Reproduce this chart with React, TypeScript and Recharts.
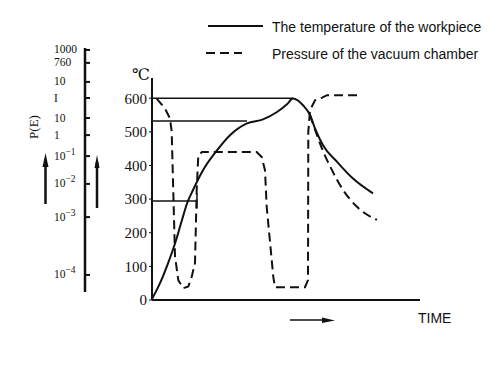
import React from 'react';
import { LineChart, Line, XAxis, YAxis } from 'recharts';

// temperature scale (℃) of the main plot
const tempTicks = [0, 100, 200, 300, 400, 500, 600];

// workpiece temperature (solid)
const workpieceTime = [0, 8, 16, 23, 30, 35, 41, 51, 65, 78, 95, 111, 125, 135, 141, 151, 158, 163, 171, 185, 201, 221];
const workpieceTemp = [3, 50, 109, 168, 238, 287, 327, 386, 445, 490, 525, 537, 559, 582, 599, 579, 550, 510, 460, 411, 361, 317];

// vacuum chamber pressure (dashed), drawn on the temperature frame
const pressureTime = [4.7, 13, 18, 19.7, 23, 26.3, 31.3, 36.3, 39.7, 43, 44.7, 46.3, 50, 104.7, 109.7, 113, 114.7, 121.3, 123, 153, 156, 156.3, 158, 163, 169.7, 175, 209.7];
const pressureLevel = [599, 569, 540, 500, 130, 59, 35, 40, 69, 110, 327, 430, 440, 440, 425, 386, 277, 69, 38, 38, 59, 500, 564, 594, 601, 609, 609];

// second dashed cooling branch
const coolingTime = [158, 165, 170, 180, 190, 205, 225];
const coolingTemp = [550, 490, 450, 386, 332, 277, 238];

// horizontal guide lines from the ℃ axis
const guideLevels = [600, 532, 294];
const guideEnds = [141, 95, 45];

// left pressure scale: tick positions (0 = bottom, 100 = top) and labels
const pressureTickPos = [99.2, 93.9, 86.1, 79.5, 71.3, 64.3, 55.7, 44.3, 30.7, 7.0];
const pressureTickBase = ['1000', '760', '10', 'I', '10', '1', '10', '10', '10', '10'];
const pressureTickExp = ['', '', '', '', '', '', '−1', '−2', '−3', '−4'];

const ink = '#111';
const serif = '"Liberation Serif", "DejaVu Serif", serif';
const sans = '"Liberation Sans", Arial, sans-serif';

const toRows = (xs: number[], ys: number[]) => xs.map((t, i) => ({ t, v: ys[i] }));
const pressureRows = pressureTickPos.map((p) => ({ x: 0, p }));

const renderPressureTick = (props: any) => {
  const { x, y, payload } = props;
  const i = pressureTickPos.indexOf(payload.value);
  return (
    <g key={'pt' + i}>
      <line x1={x} x2={x + 5} y1={y} y2={y} stroke={ink} strokeWidth={2} />
      <text x={x - 31} y={y} dy={3.5} fontFamily={serif} fontSize={11.5} fill={ink}>
        {pressureTickBase[i]}
        {pressureTickExp[i] ? <tspan dy={-5} fontSize={9.5}>{pressureTickExp[i]}</tspan> : null}
      </text>
    </g>
  );
};

export default function App() {
  return (
    <div style={{ position: 'absolute', left: 0, top: 0, width: 498, height: 376, background: '#fff' }}>
      <div style={{ position: 'absolute', left: 0, top: 0 }}>
        <LineChart width={498} height={376} margin={{ top: 78, right: 78, bottom: 56, left: 112 }}>
          <XAxis
            type="number"
            dataKey="t"
            domain={[0, 268]}
            allowDataOverflow
            tick={false}
            tickLine={false}
            height={20}
            axisLine={{ stroke: ink, strokeWidth: 2 }}
          />
          <YAxis
            type="number"
            domain={[0, 660]}
            ticks={tempTicks}
            interval={0}
            width={40}
            tickSize={3}
            tickMargin={2}
            axisLine={{ stroke: ink, strokeWidth: 2 }}
            tickLine={{ stroke: ink }}
            tick={{ fill: ink, fontSize: 15, fontFamily: serif }}
          />
          {guideLevels.map((lv, i) => (
            <Line
              key={'g' + i}
              data={[{ t: 0, v: lv }, { t: guideEnds[i], v: lv }]}
              dataKey="v"
              type="linear"
              stroke={ink}
              strokeWidth={1.5}
              dot={false}
              isAnimationActive={false}
            />
          ))}
          <Line
            data={[{ t: guideEnds[2], v: guideLevels[2] - 22 }, { t: guideEnds[2], v: guideLevels[2] + 22 }]}
            dataKey="v"
            type="linear"
            stroke={ink}
            strokeWidth={1.5}
            dot={false}
            isAnimationActive={false}
          />
          <Line
            data={toRows(pressureTime, pressureLevel)}
            dataKey="v"
            type="linear"
            stroke={ink}
            strokeWidth={2}
            strokeDasharray="9 5"
            dot={false}
            isAnimationActive={false}
          />
          <Line
            data={toRows(coolingTime, coolingTemp)}
            dataKey="v"
            type="monotone"
            stroke={ink}
            strokeWidth={2}
            strokeDasharray="9 5"
            dot={false}
            isAnimationActive={false}
          />
          <Line
            data={toRows(workpieceTime, workpieceTemp)}
            dataKey="v"
            type="monotone"
            stroke={ink}
            strokeWidth={2}
            dot={false}
            isAnimationActive={false}
          />
        </LineChart>
      </div>
      <div style={{ position: 'absolute', left: 0, top: 0 }}>
        <LineChart width={498} height={376} data={pressureRows} margin={{ top: 48, right: 400, bottom: 84, left: 25 }}>
          <XAxis type="number" dataKey="x" domain={[0, 1]} hide />
          <YAxis
            type="number"
            dataKey="p"
            domain={[0, 100]}
            ticks={pressureTickPos}
            interval={0}
            width={60}
            tickSize={0}
            tickMargin={0}
            tickLine={false}
            axisLine={{ stroke: ink, strokeWidth: 2.5 }}
            tick={renderPressureTick}
          />
        </LineChart>
      </div>
      <svg width={498} height={376} style={{ position: 'absolute', left: 0, top: 0, pointerEvents: 'none' }}>
        {/* legend */}
        <line x1={208} x2={263} y1={26} y2={26} stroke={ink} strokeWidth={2} />
        <text x={272} y={31.5} fontFamily={sans} fontSize={14} fill={ink}>The temperature of the workpiece</text>
        <line x1={206} x2={242} y1={53} y2={53} stroke={ink} strokeWidth={2} strokeDasharray="9 5" />
        <text x={272} y={59} fontFamily={sans} fontSize={14} fill={ink}>Pressure of the vacuum chamber</text>
        {/* axis titles */}
        <text x={132} y={80} fontFamily={serif} fontSize={16} fill={ink}>℃</text>
        <text x={0} y={0} transform="translate(38,127) rotate(-90)" textAnchor="middle" fontFamily={serif} fontSize={13} fill={ink}>P(E)</text>
        <text x={418} y={323} fontFamily={sans} fontSize={14} fill={ink}>TIME</text>
        {/* arrows */}
        <line x1={45.5} x2={45.5} y1={204} y2={162} stroke={ink} strokeWidth={2.5} />
        <polygon points="45.5,153 42.5,167 48.5,167" fill={ink} />
        <line x1={97} x2={97} y1={208} y2={162} stroke={ink} strokeWidth={2.5} />
        <polygon points="97,155 94.5,168 99.5,168" fill={ink} />
        <line x1={290} x2={326} y1={320} y2={320} stroke={ink} strokeWidth={1.5} />
        <polygon points="322,317.5 335,320.5 322,323" fill={ink} />
      </svg>
    </div>
  );
}
